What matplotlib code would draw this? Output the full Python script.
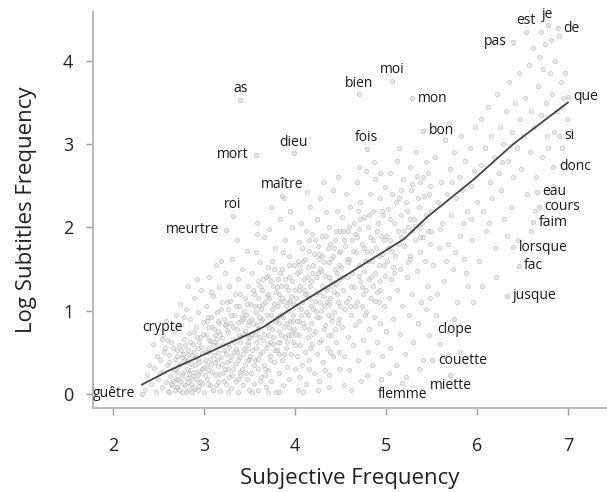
import matplotlib
matplotlib.use('Agg')
import matplotlib.pyplot as plt

plt.rcParams['font.family'] = ['Open Sans', 'DejaVu Sans']

# background cloud of words (subjective freq, log subtitles freq)
cloud = [
    # 2.3 - 2.7
    (2.35, 0.05), (2.38, 0.22), (2.42, 0.12), (2.45, 0.31), (2.47, 0.02), (2.50, 0.18), (2.52, 0.40),
    (2.54, 0.08), (2.55, 0.27), (2.57, 0.55), (2.58, 0.14), (2.60, 0.35), (2.61, 0.03), (2.62, 0.46),
    (2.63, 0.21), (2.64, 0.62), (2.65, 0.10), (2.66, 0.30), (2.67, 0.74), (2.68, 0.05), (2.68, 0.42),
    (2.69, 0.18), (2.70, 0.52), (2.70, 0.26), (2.55, 0.70), (2.48, 0.45), (2.44, 0.60), (2.58, 0.88),
    (2.62, 0.02), (2.66, 0.15), (2.52, 0.25), (2.40, 0.35), (2.60, 0.65), (2.69, 0.95), (2.56, 0.50),
    # 2.7 - 3.0
    (2.71, 0.08), (2.72, 0.33), (2.73, 0.58), (2.74, 0.15), (2.75, 0.82), (2.76, 0.02), (2.76, 0.44),
    (2.77, 0.25), (2.78, 0.66), (2.79, 0.10), (2.80, 0.38), (2.80, 1.02), (2.81, 0.19), (2.82, 0.52),
    (2.83, 0.04), (2.84, 0.73), (2.85, 0.29), (2.85, 0.90), (2.86, 0.12), (2.87, 0.47), (2.88, 0.60),
    (2.88, 0.21), (2.89, 1.15), (2.90, 0.06), (2.90, 0.35), (2.91, 0.80), (2.92, 0.16), (2.93, 0.55),
    (2.94, 0.42), (2.94, 0.98), (2.95, 0.09), (2.96, 0.27), (2.96, 0.68), (2.97, 1.25), (2.98, 0.13),
    (2.98, 0.49), (2.99, 0.86), (2.99, 0.31), (2.74, 1.08), (2.83, 1.30), (2.78, 0.92), (2.92, 1.38),
    (2.87, 0.02), (2.95, 0.62), (2.81, 0.40), (2.77, 0.48), (2.89, 0.74),
    # 3.0 - 3.5
    (3.00, 0.02), (3.01, 0.40), (3.02, 0.71), (3.02, 1.05), (3.03, 0.18), (3.04, 0.55), (3.05, 0.28),
    (3.05, 0.92), (3.06, 1.40), (3.07, 0.10), (3.07, 0.63), (3.08, 0.36), (3.09, 0.80), (3.10, 0.05),
    (3.10, 1.18), (3.11, 0.47), (3.12, 0.22), (3.12, 0.70), (3.13, 1.55), (3.14, 0.98), (3.15, 0.14),
    (3.15, 0.58), (3.16, 0.33), (3.17, 0.85), (3.17, 1.28), (3.18, 0.03), (3.19, 0.44), (3.20, 0.67),
    (3.20, 1.10), (3.21, 0.25), (3.22, 0.90), (3.22, 0.52), (3.23, 1.45), (3.24, 0.12), (3.25, 0.38),
    (3.25, 0.76), (3.26, 1.02), (3.27, 0.60), (3.28, 0.20), (3.28, 1.30), (3.29, 0.85), (3.30, 0.45),
    (3.30, 0.07), (3.31, 1.62), (3.32, 0.66), (3.32, 0.30), (3.33, 0.95), (3.34, 1.20), (3.35, 0.15),
    (3.35, 0.54), (3.36, 0.78), (3.37, 1.38), (3.38, 0.40), (3.38, 0.02), (3.39, 1.05), (3.40, 0.62),
    (3.40, 0.26), (3.41, 0.88), (3.42, 1.50), (3.43, 0.10), (3.43, 0.48), (3.44, 0.72), (3.45, 1.15),
    (3.45, 0.34), (3.46, 0.95), (3.47, 0.18), (3.47, 1.72), (3.48, 0.58), (3.49, 0.82), (3.49, 1.30),
    (3.50, 0.05), (3.50, 0.42), (3.03, 0.88), (3.08, 1.22), (3.14, 0.40), (3.19, 1.60), (3.23, 0.30),
    (3.27, 0.02), (3.33, 0.50), (3.36, 1.85), (3.41, 0.22), (3.44, 1.00), (3.48, 0.68), (3.11, 0.62),
    (3.24, 0.84), (3.39, 0.70), (3.46, 0.52), (3.06, 0.50), (3.16, 0.75), (3.29, 1.12), (3.42, 0.92),
    # 3.5 - 4.0
    (3.51, 0.68), (3.51, 1.08), (3.52, 0.25), (3.53, 1.45), (3.53, 0.52), (3.54, 0.85), (3.55, 0.12),
    (3.55, 1.20), (3.56, 0.40), (3.57, 0.98), (3.57, 1.70), (3.58, 0.62), (3.59, 0.30), (3.59, 1.35),
    (3.60, 0.78), (3.60, 0.05), (3.61, 1.05), (3.62, 0.48), (3.62, 1.58), (3.63, 0.20), (3.64, 0.90),
    (3.64, 1.25), (3.65, 0.65), (3.66, 0.35), (3.66, 1.88), (3.67, 1.10), (3.68, 0.55), (3.68, 0.08),
    (3.69, 0.82), (3.70, 1.42), (3.70, 0.28), (3.71, 0.70), (3.72, 1.15), (3.72, 1.98), (3.73, 0.45),
    (3.74, 0.95), (3.74, 0.15), (3.75, 1.60), (3.76, 0.60), (3.76, 1.30), (3.77, 0.38), (3.78, 0.88),
    (3.78, 1.75), (3.79, 0.02), (3.80, 1.05), (3.80, 0.52), (3.81, 1.38), (3.82, 0.75), (3.82, 0.25),
    (3.83, 1.20), (3.84, 2.10), (3.84, 0.62), (3.85, 0.95), (3.86, 1.50), (3.86, 0.40), (3.87, 0.10),
    (3.88, 1.12), (3.88, 0.80), (3.89, 1.85), (3.90, 0.55), (3.90, 1.30), (3.91, 0.32), (3.92, 1.00),
    (3.92, 0.70), (3.93, 1.65), (3.94, 0.18), (3.94, 1.40), (3.95, 0.88), (3.96, 0.48), (3.96, 1.18),
    (3.97, 2.00), (3.98, 0.62), (3.98, 0.95), (3.99, 1.55), (4.00, 0.30), (4.00, 1.25), (3.53, 0.02),
    (3.58, 1.92), (3.63, 1.02), (3.67, 0.22), (3.71, 1.52), (3.75, 0.78), (3.79, 1.22), (3.83, 0.48),
    (3.87, 1.70), (3.91, 0.85), (3.95, 2.20), (3.99, 0.78), (3.56, 0.72), (3.61, 0.92), (3.65, 1.38),
    (3.69, 1.18), (3.73, 0.62), (3.77, 1.08), (3.81, 0.92), (3.85, 1.30), (3.89, 0.68), (3.93, 1.10),
    (3.97, 0.75), (3.62, 0.15), (3.74, 2.25), (3.88, 2.35), (3.58, 2.05), (3.70, 0.02), (3.82, 0.02),
    # 4.0 - 4.5
    (4.01, 0.72), (4.02, 1.45), (4.02, 0.45), (4.03, 1.05), (4.04, 1.82), (4.04, 0.20), (4.05, 0.88),
    (4.06, 1.30), (4.06, 0.58), (4.07, 2.05), (4.08, 1.10), (4.08, 0.35), (4.09, 1.60), (4.10, 0.80),
    (4.10, 1.25), (4.11, 0.50), (4.12, 1.95), (4.12, 0.12), (4.13, 1.40), (4.14, 0.95), (4.14, 0.68),
    (4.15, 1.72), (4.16, 1.15), (4.16, 0.40), (4.17, 2.25), (4.18, 0.85), (4.18, 1.35), (4.19, 0.60),
    (4.20, 1.55), (4.20, 1.02), (4.21, 0.25), (4.22, 1.85), (4.22, 0.75), (4.23, 1.20), (4.24, 2.10),
    (4.24, 0.48), (4.25, 1.45), (4.26, 0.92), (4.26, 1.68), (4.27, 0.15), (4.28, 1.10), (4.28, 2.35),
    (4.29, 0.65), (4.30, 1.30), (4.30, 1.90), (4.31, 0.38), (4.32, 1.05), (4.32, 1.58), (4.33, 0.82),
    (4.34, 2.18), (4.34, 1.25), (4.35, 0.55), (4.36, 1.75), (4.36, 0.95), (4.37, 1.40), (4.38, 0.22),
    (4.38, 2.00), (4.39, 1.15), (4.40, 0.70), (4.40, 1.62), (4.41, 1.30), (4.42, 2.45), (4.42, 0.45),
    (4.43, 0.98), (4.44, 1.85), (4.44, 1.50), (4.45, 0.62), (4.46, 1.20), (4.46, 2.20), (4.47, 0.85),
    (4.48, 1.70), (4.48, 0.30), (4.49, 1.38), (4.50, 1.05), (4.50, 1.95), (4.03, 0.05), (4.09, 0.02),
    (4.13, 2.42), (4.19, 1.92), (4.25, 0.05), (4.31, 2.55), (4.37, 0.08), (4.43, 1.75), (4.47, 2.60),
    (4.05, 1.55), (4.11, 1.20), (4.17, 0.55), (4.23, 1.00), (4.29, 1.48), (4.35, 1.10), (4.41, 0.88),
    (4.45, 1.32), (4.49, 0.50), (4.07, 0.95), (4.15, 0.30), (4.27, 1.62), (4.33, 0.28), (4.39, 0.50),
    # 4.5 - 5.0
    (4.51, 1.52), (4.52, 0.80), (4.52, 2.12), (4.53, 1.25), (4.54, 0.45), (4.55, 1.78), (4.55, 1.02),
    (4.56, 2.40), (4.57, 1.40), (4.58, 0.68), (4.58, 1.95), (4.59, 1.15), (4.60, 0.28), (4.60, 1.62),
    (4.61, 2.25), (4.62, 0.95), (4.63, 1.45), (4.63, 1.85), (4.64, 0.58), (4.65, 2.05), (4.65, 1.28),
    (4.66, 0.82), (4.67, 1.70), (4.68, 2.55), (4.68, 1.10), (4.69, 0.40), (4.70, 1.55), (4.70, 1.98),
    (4.71, 0.88), (4.72, 1.35), (4.72, 2.30), (4.73, 0.15), (4.74, 1.80), (4.74, 1.05), (4.75, 0.65),
    (4.76, 2.12), (4.76, 1.48), (4.77, 0.95), (4.78, 2.68), (4.78, 1.25), (4.79, 1.70), (4.80, 0.50),
    (4.80, 2.00), (4.81, 1.38), (4.82, 0.78), (4.83, 1.88), (4.83, 2.40), (4.84, 1.15), (4.85, 0.35),
    (4.85, 1.60), (4.86, 2.20), (4.87, 0.92), (4.88, 1.45), (4.88, 2.58), (4.89, 1.75), (4.90, 0.62),
    (4.90, 1.22), (4.91, 2.05), (4.92, 1.55), (4.93, 0.85), (4.93, 2.35), (4.94, 1.35), (4.95, 1.90),
    (4.96, 0.45), (4.96, 1.68), (4.97, 2.15), (4.98, 1.05), (4.99, 2.48), (4.99, 1.42), (5.00, 0.75),
    (4.54, 0.10), (4.62, 0.05), (4.71, 2.72), (4.79, 0.22), (4.87, 2.78), (4.95, 0.18), (4.57, 1.62),
    (4.66, 1.92), (4.75, 1.20), (4.84, 1.72), (4.92, 1.10), (4.53, 1.95), (4.61, 1.05), (4.69, 2.20),
    (4.77, 1.60), (4.86, 1.30), (4.94, 2.65), (4.98, 1.85),
    # 5.0 - 5.5
    (5.01, 1.60), (5.02, 2.22), (5.03, 1.15), (5.04, 2.65), (5.05, 0.55), (5.05, 1.85), (5.06, 1.38),
    (5.07, 2.40), (5.08, 0.90), (5.09, 2.05), (5.10, 1.65), (5.11, 0.35), (5.12, 2.80), (5.12, 1.25),
    (5.13, 1.95), (5.14, 2.35), (5.15, 0.72), (5.16, 1.50), (5.17, 2.15), (5.18, 1.05), (5.19, 2.58),
    (5.20, 1.78), (5.21, 0.48), (5.22, 2.30), (5.23, 1.40), (5.24, 2.00), (5.25, 0.95), (5.26, 2.72),
    (5.27, 1.65), (5.28, 2.45), (5.29, 1.20), (5.30, 0.62), (5.31, 2.10), (5.32, 1.85), (5.33, 2.90),
    (5.34, 1.48), (5.35, 0.85), (5.36, 2.25), (5.37, 1.70), (5.38, 2.55), (5.39, 1.10), (5.40, 2.05),
    (5.41, 0.40), (5.42, 2.38), (5.43, 1.60), (5.44, 2.78), (5.45, 1.30), (5.46, 1.95), (5.47, 0.70),
    (5.48, 2.50), (5.49, 1.80), (5.50, 2.20), (5.03, 0.25), (5.14, 2.95), (5.22, 0.20), (5.29, 1.95),
    (5.36, 0.30), (5.44, 1.02), (5.07, 1.72), (5.17, 1.88), (5.26, 2.10), (5.34, 2.62), (5.41, 1.88),
    (5.49, 1.15), (5.09, 1.45), (5.24, 1.58), (5.38, 2.00), (5.46, 2.65),
    # 5.5 - 6.0
    (5.52, 1.55), (5.54, 2.85), (5.55, 0.95), (5.57, 2.30), (5.58, 1.75), (5.60, 0.60), (5.61, 2.55),
    (5.62, 2.05), (5.64, 1.35), (5.65, 3.05), (5.67, 2.40), (5.68, 1.80), (5.70, 0.80), (5.71, 2.70),
    (5.72, 2.15), (5.74, 1.50), (5.75, 2.90), (5.77, 2.35), (5.78, 1.10), (5.80, 2.60), (5.81, 1.90),
    (5.83, 3.10), (5.84, 2.45), (5.86, 1.62), (5.87, 2.80), (5.89, 2.20), (5.90, 1.30), (5.92, 2.95),
    (5.93, 2.50), (5.95, 1.85), (5.97, 2.68), (5.98, 3.20), (6.00, 2.30), (5.56, 1.20), (5.63, 0.45),
    (5.69, 3.25), (5.76, 1.70), (5.82, 0.50), (5.88, 1.45), (5.94, 2.10), (5.59, 1.98), (5.73, 2.55),
    (5.85, 2.05), (5.96, 1.10), (5.66, 1.60),
    # 6.0 - 6.5
    (6.02, 1.60), (6.04, 2.75), (6.05, 3.30), (6.07, 2.20), (6.09, 2.95), (6.10, 1.95), (6.12, 3.45),
    (6.14, 2.55), (6.15, 3.10), (6.17, 2.35), (6.19, 2.85), (6.20, 1.75), (6.22, 3.60), (6.24, 2.65),
    (6.25, 3.20), (6.27, 2.45), (6.29, 3.00), (6.30, 2.10), (6.32, 3.40), (6.34, 2.80), (6.35, 3.75),
    (6.37, 2.25), (6.39, 3.15), (6.40, 2.60), (6.42, 3.50), (6.44, 2.95), (6.45, 1.85), (6.47, 3.30),
    (6.49, 2.70), (6.06, 1.30), (6.21, 1.40), (6.33, 1.90), (6.46, 3.85), (6.13, 2.05), (6.28, 2.78),
    # 6.5 - 7.0
    (6.51, 3.10), (6.53, 3.55), (6.55, 2.40), (6.57, 3.95), (6.58, 2.90), (6.60, 3.40), (6.62, 4.15),
    (6.63, 3.20), (6.65, 2.60), (6.67, 3.70), (6.68, 4.05), (6.70, 3.35), (6.72, 2.85), (6.73, 3.90),
    (6.75, 4.20), (6.76, 3.50), (6.78, 2.95), (6.80, 3.85), (6.81, 4.25), (6.83, 3.60), (6.85, 3.15),
    (6.86, 4.00), (6.88, 3.40), (6.90, 4.30), (6.92, 3.75), (6.93, 2.95), (6.95, 3.55), (6.97, 3.85),
    (6.99, 3.30), (6.64, 2.20), (6.71, 4.35), (6.84, 2.50), (6.59, 1.95), (6.77, 3.10), (6.94, 3.45),
]

# the dense core of the cloud, where points pile up around the trend
core = [
    (2.62, 0.38), (2.64, 0.12), (2.66, 0.55), (2.68, 0.28), (2.70, 0.08), (2.71, 0.45), (2.72, 0.18),
    (2.73, 0.05), (2.74, 0.36), (2.75, 0.52), (2.76, 0.22), (2.77, 0.12), (2.78, 0.40), (2.79, 0.58),
    (2.80, 0.02), (2.81, 0.30), (2.82, 0.14), (2.83, 0.46), (2.84, 0.24), (2.85, 0.62), (2.86, 0.36),
    (2.87, 0.18), (2.88, 0.08), (2.89, 0.50), (2.90, 0.26), (2.91, 0.44), (2.92, 0.68), (2.93, 0.22),
    (2.94, 0.05), (2.95, 0.38), (2.96, 0.14), (2.97, 0.56), (2.98, 0.30), (2.99, 0.72),
    (3.01, 0.22), (3.02, 0.50), (3.03, 0.34), (3.04, 0.80), (3.05, 0.12), (3.06, 0.64), (3.07, 0.42),
    (3.08, 0.92), (3.09, 0.26), (3.10, 0.58), (3.11, 0.78), (3.12, 0.38), (3.13, 0.10), (3.14, 0.66),
    (3.15, 0.88), (3.16, 0.50), (3.17, 0.24), (3.18, 0.72), (3.19, 1.02), (3.20, 0.36), (3.21, 0.60),
    (3.22, 0.15), (3.23, 0.82), (3.24, 0.48), (3.25, 1.10), (3.26, 0.30), (3.27, 0.74), (3.28, 0.56),
    (3.29, 0.40), (3.30, 0.95), (3.31, 0.22), (3.32, 0.80), (3.33, 0.62), (3.34, 0.36), (3.35, 1.05),
    (3.36, 0.50), (3.37, 0.18), (3.38, 0.86), (3.39, 0.44), (3.40, 1.20), (3.41, 0.68), (3.42, 0.30),
    (3.43, 0.90), (3.44, 0.54), (3.45, 0.75), (3.46, 0.25), (3.47, 1.08), (3.48, 0.40), (3.49, 0.62),
    (3.50, 0.88),
    (3.51, 0.45), (3.52, 0.90), (3.53, 0.72), (3.54, 1.25), (3.55, 0.35), (3.56, 1.05), (3.57, 0.55),
    (3.58, 0.82), (3.59, 1.15), (3.60, 0.42), (3.61, 0.68), (3.62, 1.30), (3.63, 0.88), (3.64, 0.50),
    (3.65, 1.08), (3.66, 0.72), (3.67, 0.30), (3.68, 1.40), (3.69, 0.95), (3.70, 0.60), (3.71, 1.20),
    (3.72, 0.80), (3.73, 0.40), (3.74, 1.35), (3.75, 1.02), (3.76, 0.68), (3.77, 1.50), (3.78, 0.52),
    (3.79, 0.90), (3.80, 1.28), (3.81, 0.62), (3.82, 1.10), (3.83, 0.85), (3.84, 1.45), (3.85, 0.70),
    (3.86, 1.15), (3.87, 0.92), (3.88, 0.48), (3.89, 1.38), (3.90, 1.05), (3.91, 0.62), (3.92, 1.25),
    (3.93, 0.80), (3.94, 1.55), (3.95, 1.12), (3.96, 0.70), (3.97, 1.35), (3.98, 0.88), (3.99, 1.08),
    (4.00, 0.58),
    (4.01, 1.15), (4.02, 0.88), (4.03, 1.60), (4.04, 1.25), (4.05, 0.70), (4.06, 1.48), (4.07, 1.02),
    (4.08, 1.75), (4.09, 0.85), (4.10, 1.38), (4.11, 1.62), (4.12, 0.98), (4.13, 1.20), (4.14, 1.52),
    (4.15, 0.78), (4.16, 1.85), (4.17, 1.30), (4.18, 1.05), (4.19, 1.45), (4.20, 0.72), (4.21, 1.68),
    (4.22, 1.12), (4.23, 1.40), (4.24, 0.92), (4.25, 1.78), (4.26, 1.22), (4.27, 0.62), (4.28, 1.50),
    (4.29, 1.00), (4.30, 1.65), (4.31, 1.18), (4.32, 0.78), (4.33, 1.42), (4.34, 1.90), (4.35, 1.28),
    (4.36, 0.70), (4.37, 1.58), (4.38, 1.08), (4.39, 1.80), (4.40, 1.35), (4.41, 0.92), (4.42, 1.65),
    (4.43, 1.22), (4.44, 0.78), (4.45, 1.95), (4.46, 1.45), (4.47, 1.10), (4.48, 1.55), (4.49, 0.90),
    (4.50, 1.72),
    (4.52, 1.40), (4.54, 1.85), (4.56, 1.10), (4.58, 1.58), (4.60, 2.00), (4.62, 1.30), (4.64, 1.72),
    (4.66, 1.05), (4.68, 1.88), (4.70, 1.42), (4.72, 2.10), (4.74, 1.28), (4.76, 1.75), (4.78, 0.98),
    (4.80, 1.60), (4.82, 2.15), (4.84, 1.40), (4.86, 1.85), (4.88, 1.12), (4.90, 1.95), (4.92, 1.65),
    (4.94, 1.25), (4.96, 2.20), (4.98, 1.55), (5.00, 1.90),
    (5.02, 1.75), (5.05, 2.10), (5.08, 1.52), (5.11, 2.30), (5.14, 1.80), (5.17, 2.45), (5.20, 1.95),
    (5.23, 2.20), (5.26, 1.62), (5.29, 2.52), (5.32, 2.02), (5.35, 2.35), (5.38, 1.88), (5.41, 2.60),
    (5.44, 2.15), (5.47, 2.40), (5.50, 1.95),
]
cloud_x = [p[0] for p in cloud + core]
cloud_y = [p[1] for p in cloud + core]

# labelled words
words = ['as', 'mort', 'dieu', 'maître', 'roi', 'meurtre', 'crypte', 'guêtre',
         'bien', 'moi', 'mon', 'fois', 'bon', 'pas', 'est', 'je', 'de', 'que',
         'si', 'donc', 'eau', 'cours', 'faim', 'lorsque', 'fac', 'jusque',
         'clope', 'couette', 'miette', 'flemme']
word_x = [3.40, 3.57, 3.99, 3.86, 3.32, 3.24, 2.54, 2.32,
          4.70, 5.07, 5.29, 4.79, 5.41, 6.40, 6.54, 6.78, 6.89, 7.00,
          6.90, 6.84, 6.66, 6.68, 6.62, 6.40, 6.46, 6.33,
          5.75, 5.51, 5.71, 5.18]
word_y = [3.53, 2.87, 2.89, 2.38, 2.14, 1.97, 0.66, 0.00,
          3.60, 3.76, 3.55, 2.94, 3.16, 4.23, 4.35, 4.43, 4.39, 3.57,
          3.10, 2.73, 2.43, 2.25, 2.06, 1.76, 1.54, 1.18,
          0.90, 0.40, 0.23, 0.13]
word_pos = ['above', 'left', 'above', 'above', 'above', 'left', 'above', 'left',
            'above', 'above', 'right', 'above', 'right', 'left', 'above', 'above', 'right', 'right',
            'right', 'right', 'right', 'right', 'right', 'right', 'right', 'right',
            'below', 'right', 'below', 'below']

# smoothed trend
trend_x = [2.32, 2.6, 3.0, 3.5, 3.65, 4.0, 4.6, 5.2, 5.45, 5.96, 6.4, 7.0]
trend_y = [0.11, 0.27, 0.47, 0.72, 0.80, 1.05, 1.45, 1.86, 2.12, 2.57, 3.00, 3.50]

fig = plt.figure(figsize=(6.07, 4.92), dpi=100)
ax = fig.add_axes([0.153, 0.171, 0.847, 0.805])

ax.scatter(cloud_x, cloud_y, s=9, facecolor='#dddddd', edgecolor='#a8a8a8',
           linewidths=0.5, alpha=0.6, zorder=2)
ax.scatter(word_x, word_y, s=9, facecolor='#dddddd', edgecolor='#a8a8a8',
           linewidths=0.5, alpha=0.7, zorder=2)
ax.plot(trend_x, trend_y, color='#444444', lw=1.3, zorder=3)

offsets = {
    'above': ((0, 8), 'center', 'center'),
    'below': ((0, -8), 'center', 'center'),
    'left': ((-5, 0), 'right', 'center'),
    'right': ((4, 0), 'left', 'center'),
}
for w, x, y, p in zip(words, word_x, word_y, word_pos):
    off, ha, va = offsets[p]
    ax.annotate(w, (x, y), xytext=off, textcoords='offset points',
                ha=ha, va=va, fontsize=10, color='#1a1a1a', zorder=4)

ax.set_xlim(1.78, 7.43)
ax.set_ylim(-0.17, 4.59)
ax.set_xticks([2, 3, 4, 5, 6, 7])
ax.set_yticks([0, 1, 2, 3, 4])

for s in ['top', 'right']:
    ax.spines[s].set_visible(False)
for s in ['left', 'bottom']:
    ax.spines[s].set_color('#bbbbbb')
    ax.spines[s].set_linewidth(1.5)

ax.tick_params(axis='both', colors='#999999', labelcolor='#222222',
               labelsize=13, length=5, width=1)
ax.tick_params(axis='x', pad=16)
ax.tick_params(axis='y', pad=9)

ax.set_xlabel('Subjective Frequency', fontsize=16, color='#222222', labelpad=9)
ax.set_ylabel('Log Subtitles Frequency', fontsize=16, color='#222222', labelpad=19)

fig.savefig('out.png', dpi=100)
